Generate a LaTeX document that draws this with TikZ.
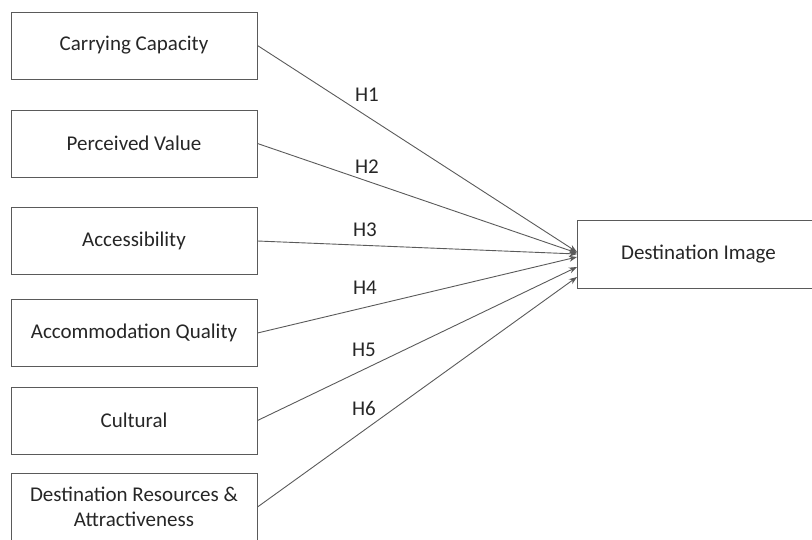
\documentclass[tikz,border=0pt]{standalone}
\usepackage{fontspec}
\setmainfont{Carlito}
\usetikzlibrary{arrows.meta}

\definecolor{boxline}{HTML}{5A5A5A}
\definecolor{boxtext}{HTML}{262626}

\begin{document}
\begin{tikzpicture}[x=1pt, y=-1pt]

\tikzstyle factor=[draw=boxline, line width=1pt, minimum width=246pt, minimum height=67pt, text=boxtext, align=center, font=\fontsize{21}{25}\selectfont, inner sep=0pt]
\tikzstyle hyp=[text=boxtext, font=\fontsize{21}{24}\selectfont, inner sep=0pt]
\tikzstyle link=[draw=boxline, line width=0.9pt, -{Stealth[length=8pt, width=6pt]}]

\useasboundingbox (0,0) rectangle (812,539);

\node (f1) [factor] at (134,45.5)  {Carrying Capacity};
\node (f2) [factor] at (134,143.5) {Perceived Value};
\node (f3) [factor] at (134,241)   {Accessibility};
\node (f4) [factor] at (134,333)   {Accommodation Quality};
\node (f5) [factor] at (134,420.5) {Cultural};
\node (f6) [factor] at (134,507)   {Destination Resources \&\\Attractiveness};

\node (di) [factor, minimum width=243pt, minimum height=68pt] at (698.5,254) {Destination Image};

\coordinate (e1) at (577,252);
\coordinate (e2) at (577,253);
\coordinate (e3) at (577,254);
\coordinate (e4) at (577,257);
\coordinate (e5) at (577,267);
\coordinate (e6) at (577,277);

\node (h1) [hyp] at (367,95)  {H1};
\node (h2) [hyp] at (367,167) {H2};
\node (h3) [hyp] at (365,230) {H3};
\node (h4) [hyp] at (365,288) {H4};
\node (h5) [hyp] at (364,350) {H5};
\node (h6) [hyp] at (364,408) {H6};

\foreach \i in {1,...,6}
{
\draw [link] (f\i.east) -- (e\i);
}

\end{tikzpicture}
\end{document}
